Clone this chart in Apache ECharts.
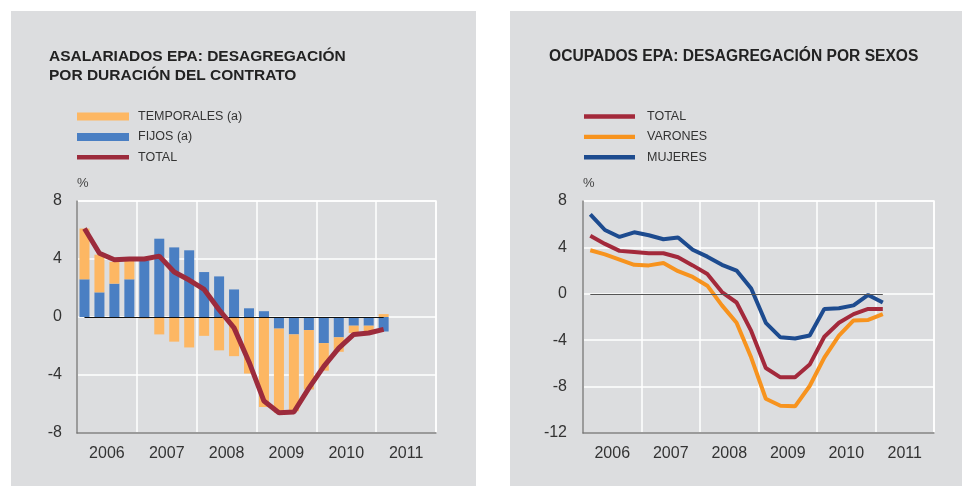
<!DOCTYPE html>
<html>
<head>
<meta charset="utf-8">
<script src="https://cdn.jsdelivr.net/npm/echarts@6/dist/echarts.min.js"></script>
<style>
  html, body { margin: 0; padding: 0; background: #fff; }
  #main { width: 962px; height: 486px; }
</style>
</head>
<body>
<div id="main"></div>
<script>
// years shown under the axis, quarters used for the data
var years = ['2006', '2007', '2008', '2009', '2010', '2011'];
var quarters = [];
years.forEach(function (y) {
  ['I', 'II', 'III', 'IV'].forEach(function (q) { quarters.push(y + ' ' + q); });
});
var yTicksLeft = [-8, 8, 4];   // min, max, step
var yTicksRight = [-12, 8, 4];

// ASALARIADOS EPA (2006 I - 2011 I)
var temporales = [3.5, 2.6, 1.5, 1.35, -0.1, -1.2, -1.7, -2.1, -1.3, -2.3, -2.7, -3.9, -6.2, -5.8, -5.3, -4.1, -1.9, -1.0, -0.5, -0.4, 0.2];
var fijos = [2.6, 1.7, 2.3, 2.6, 3.9, 5.4, 4.8, 4.6, 3.1, 2.8, 1.9, 0.6, 0.4, -0.8, -1.2, -0.9, -1.8, -1.4, -0.6, -0.6, -1.0];
var totalAsal = [6.1, 4.4, 3.95, 4.0, 4.0, 4.2, 3.1, 2.55, 1.9, 0.5, -0.75, -3.1, -5.8, -6.6, -6.55, -4.9, -3.4, -2.15, -1.2, -1.1, -0.85];

// OCUPADOS EPA
var totalOcup = [5.0, 4.3, 3.7, 3.6, 3.5, 3.5, 3.15, 2.45, 1.7, 0.15, -0.75, -3.2, -6.4, -7.2, -7.2, -6.1, -3.7, -2.5, -1.75, -1.3, -1.3];
var varones = [3.75, 3.4, 2.95, 2.5, 2.45, 2.65, 1.95, 1.45, 0.7, -1.0, -2.5, -5.5, -9.05, -9.65, -9.7, -7.95, -5.5, -3.6, -2.3, -2.25, -1.75];
var mujeres = [6.85, 5.5, 4.9, 5.3, 5.05, 4.7, 4.85, 3.8, 3.2, 2.5, 2.0, 0.45, -2.5, -3.75, -3.85, -3.6, -1.3, -1.25, -1.0, -0.1, -0.75];

var font = '"Liberation Sans", Arial, Helvetica, sans-serif';
var bg = '#dcdddf';
var lastIdx = totalAsal.length - 1;
var lineIcon = 'path://M0,0H52V4.5H0Z';

function quarterAxis(gridIndex) {
  return {
    type: 'category', gridIndex: gridIndex, data: quarters, boundaryGap: true,
    axisLine: { show: true, onZero: false, lineStyle: { color: '#7a7a7a', width: 1.5 } },
    axisTick: { show: false },
    axisLabel: { show: false },
    splitLine: { show: true, interval: 3, lineStyle: { color: '#fff', width: 1.5 } }
  };
}
function yearAxis(gridIndex) {
  return {
    type: 'category', gridIndex: gridIndex, data: years, position: 'bottom', boundaryGap: true,
    axisLine: { show: false, onZero: false }, axisTick: { show: false }, splitLine: { show: false },
    axisLabel: { color: '#333', fontSize: 16, fontFamily: font, margin: 13 }
  };
}
function valueAxis(gridIndex, t, margin) {
  return {
    type: 'value', gridIndex: gridIndex, min: t[0], max: t[1], interval: t[2],
    name: '%', nameLocation: 'end', nameGap: 11,
    nameTextStyle: { color: '#444', fontSize: 13, fontFamily: font, align: 'left' },
    axisLine: { show: true, lineStyle: { color: '#7a7a7a', width: 1.5 } },
    axisTick: { show: false },
    axisLabel: { color: '#333', fontSize: 16, fontFamily: font, margin: margin },
    splitLine: { lineStyle: { color: '#fff', width: 1.5 } }
  };
}
function zeroLine(color) {
  return {
    silent: true, symbol: 'none', label: { show: false },
    lineStyle: { color: color, width: 1.2, type: 'solid' },
    data: [[{ coord: [quarters[0], 0] }, { coord: [quarters[lastIdx], 0] }]]
  };
}
var legendText = { color: '#333', fontSize: 12.5, fontFamily: font };

var chart = echarts.init(document.getElementById('main'));
chart.setOption({
  animation: false,
  backgroundColor: '#fff',
  graphic: [
    { type: 'rect', shape: { x: 11, y: 11, width: 465, height: 475 }, style: { fill: bg }, z: -10 },
    { type: 'rect', shape: { x: 510, y: 11, width: 452, height: 475 }, style: { fill: bg }, z: -10 }
  ],
  title: [
    { text: 'ASALARIADOS EPA: DESAGREGACIÓN\nPOR DURACIÓN DEL CONTRATO', left: 49, top: 47, padding: 0,
      textStyle: { color: '#222', fontSize: 15.5, fontWeight: 'bold', fontFamily: font, lineHeight: 19 } },
    { text: 'OCUPADOS EPA: DESAGREGACIÓN POR SEXOS', left: 549, top: 47, padding: 0,
      textStyle: { color: '#222', fontSize: 15.6, fontWeight: 'bold', fontFamily: font, lineHeight: 19 } }
  ],
  legend: [
    { orient: 'vertical', left: 77, top: 110, padding: 0, itemWidth: 52, itemHeight: 8, itemGap: 7.4,
      data: [{ name: 'TEMPORALES (a)', icon: 'rect' }, { name: 'FIJOS (a)', icon: 'rect' }, { name: 'TOTAL', icon: lineIcon }],
      textStyle: Object.assign({ padding: [0, 0, 0, 4] }, legendText) },
    { orient: 'vertical', left: 584, top: 110, padding: 0, itemWidth: 51, itemHeight: 8, itemGap: 7.4,
      data: [{ name: 'TOTAL ', icon: lineIcon }, { name: 'VARONES', icon: lineIcon }, { name: 'MUJERES', icon: lineIcon }],
      textStyle: Object.assign({ padding: [0, 0, 0, 7] }, legendText) }
  ],
  grid: [
    { left: 77, top: 201, width: 359, height: 232, show: true, backgroundColor: 'transparent', borderColor: '#fff', borderWidth: 1.5 },
    { left: 583, top: 201, width: 351, height: 232, show: true, backgroundColor: 'transparent', borderColor: '#fff', borderWidth: 1.5 }
  ],
  xAxis: [quarterAxis(0), yearAxis(0), quarterAxis(1), yearAxis(1)],
  yAxis: [valueAxis(0, yTicksLeft, 15), valueAxis(1, yTicksRight, 16)],
  series: [
    { name: 'FIJOS (a)', type: 'bar', xAxisIndex: 0, yAxisIndex: 0, stack: 'asal', barWidth: 10,
      itemStyle: { color: '#4a7fc3' }, data: fijos },
    { name: 'TEMPORALES (a)', type: 'bar', xAxisIndex: 0, yAxisIndex: 0, stack: 'asal', barWidth: 10,
      itemStyle: { color: '#fdb763' }, data: temporales, markLine: zeroLine('#111') },
    { name: 'TOTAL', type: 'line', xAxisIndex: 0, yAxisIndex: 0, symbol: 'none', z: 5,
      lineStyle: { color: '#9c2b3c', width: 5 }, itemStyle: { color: '#9c2b3c' }, data: totalAsal },

    { name: 'MUJERES', type: 'line', xAxisIndex: 2, yAxisIndex: 1, symbol: 'none',
      lineStyle: { color: '#1d4b8f', width: 4 }, itemStyle: { color: '#1d4b8f' }, data: mujeres,
      markLine: zeroLine('#555') },
    { name: 'VARONES', type: 'line', xAxisIndex: 2, yAxisIndex: 1, symbol: 'none',
      lineStyle: { color: '#f7931e', width: 4 }, itemStyle: { color: '#f7931e' }, data: varones },
    { name: 'TOTAL ', type: 'line', xAxisIndex: 2, yAxisIndex: 1, symbol: 'none',
      lineStyle: { color: '#a3293b', width: 4 }, itemStyle: { color: '#a3293b' }, data: totalOcup }
  ]
});
</script>
</body>
</html>
